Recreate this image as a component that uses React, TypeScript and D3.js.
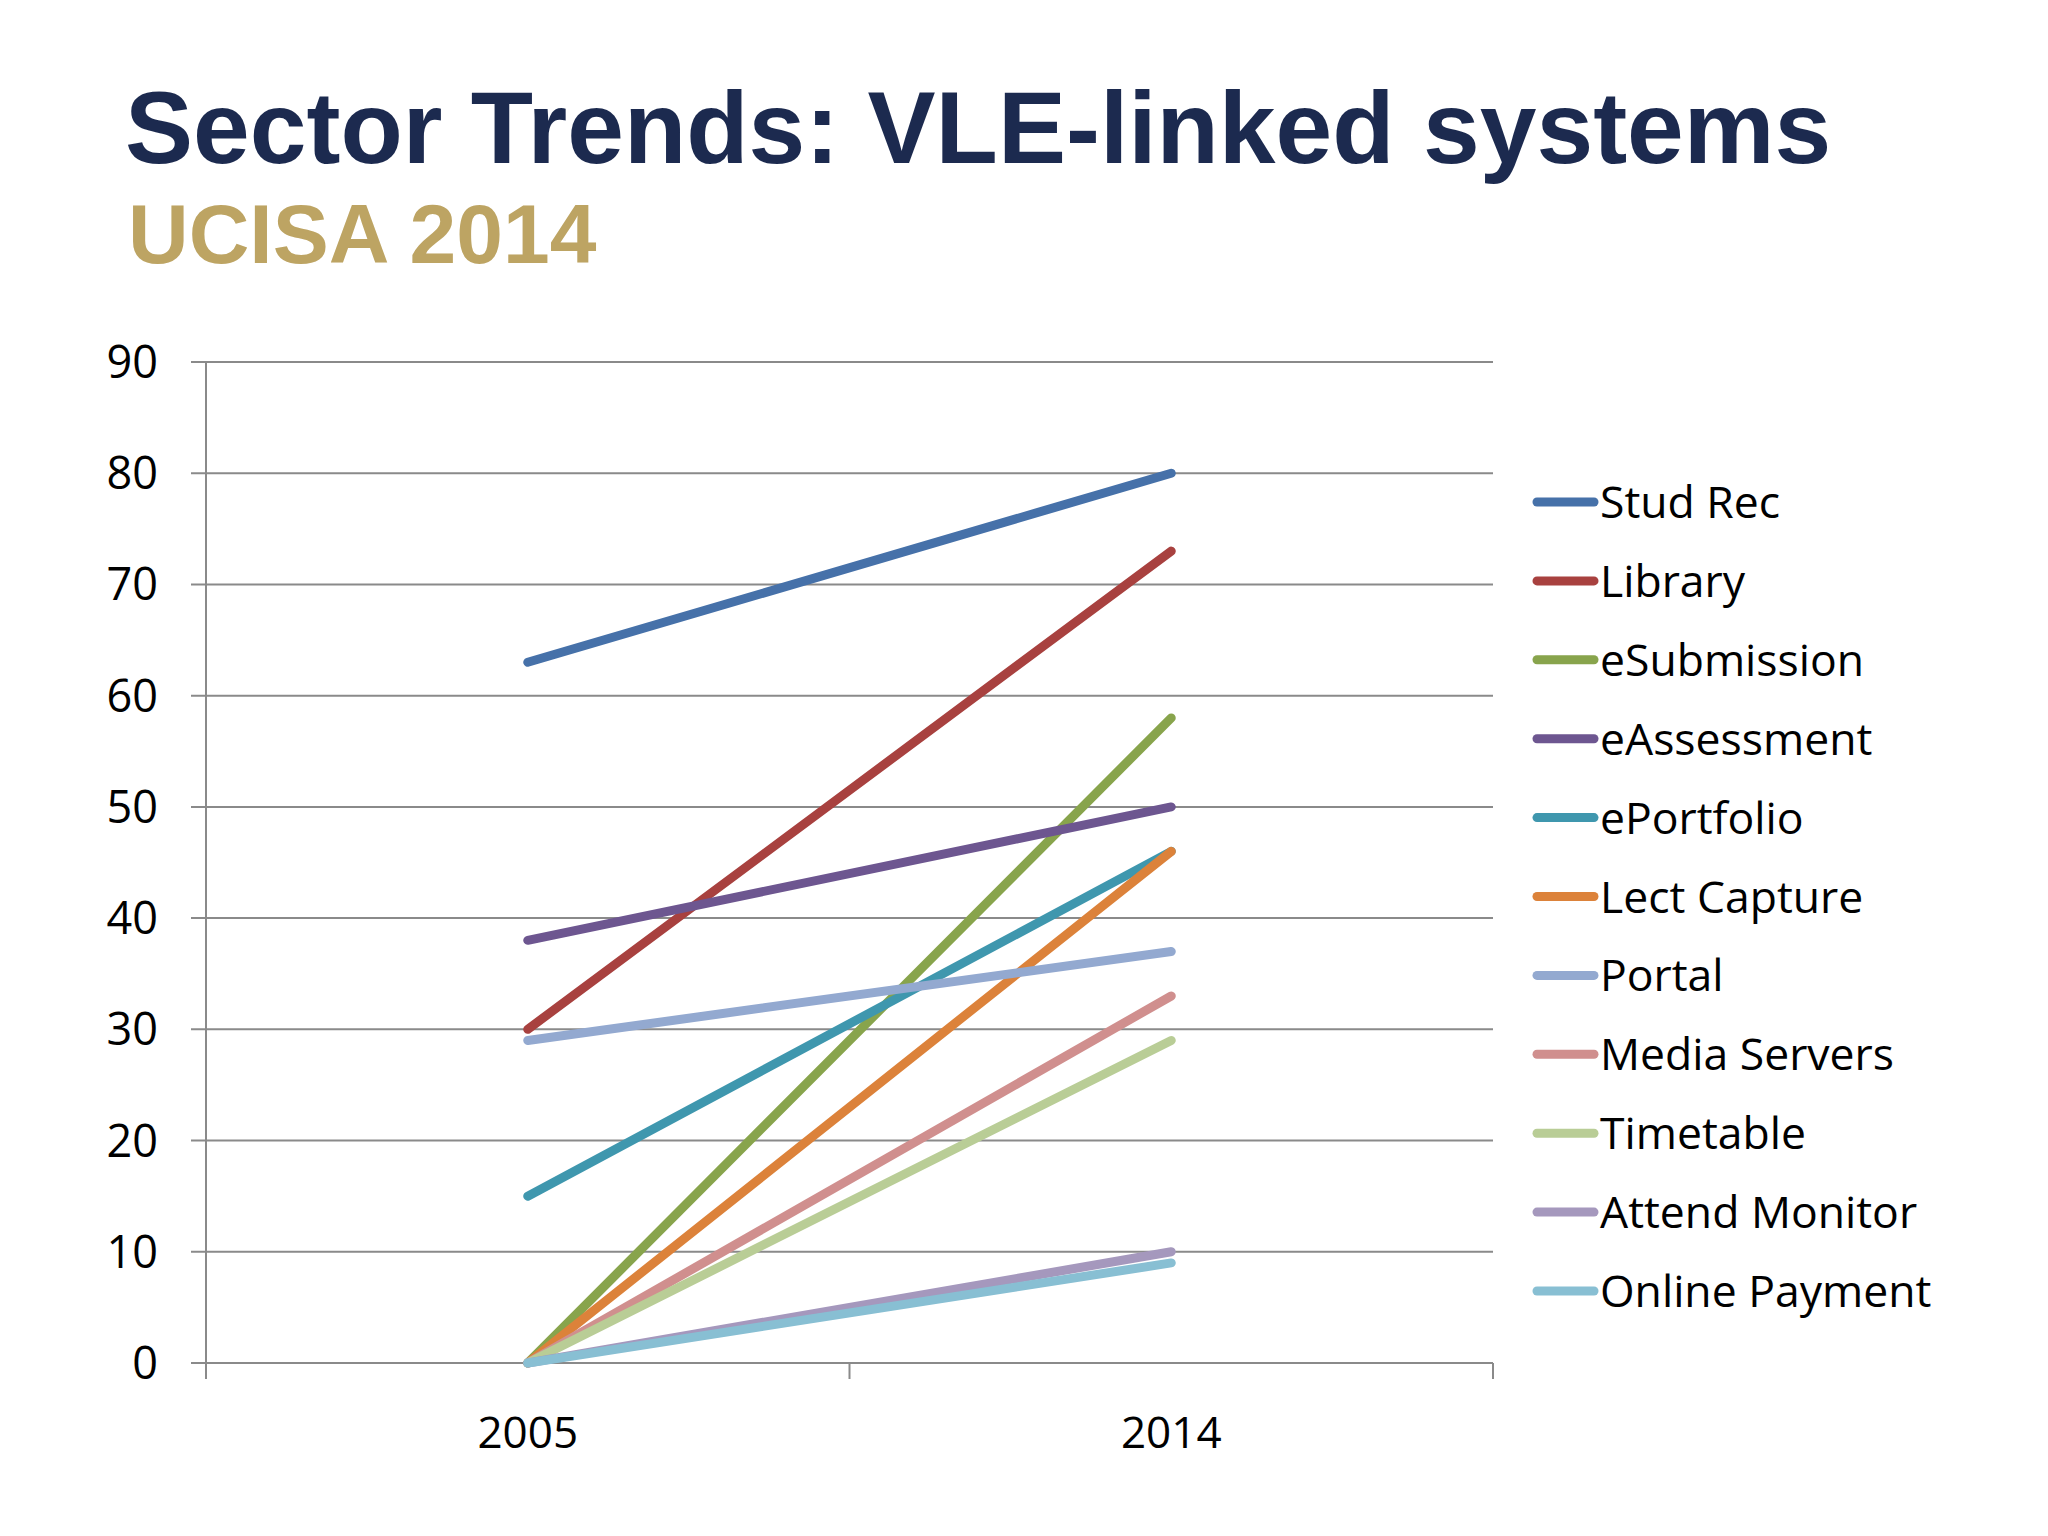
import React from "react";
import * as d3 from "d3";

const categories = ["2005", "2014"];
const seriesNames = [
  "Stud Rec",
  "Library",
  "eSubmission",
  "eAssessment",
  "ePortfolio",
  "Lect Capture",
  "Portal",
  "Media Servers",
  "Timetable",
  "Attend Monitor",
  "Online Payment",
];
const values2005 = [63, 30, 0, 38, 15, 0, 29, 0, 0, 0, 0];
const values2014 = [80, 73, 58, 50, 46, 46, 37, 33, 29, 10, 9];
const seriesColors = [
  "#4671A9",
  "#A8413F",
  "#88A44C",
  "#6D5690",
  "#3F97AE",
  "#DC823A",
  "#93A9D0",
  "#D08F8E",
  "#B9CD96",
  "#A598BD",
  "#88BFD3",
];
const yTicks = [0, 10, 20, 30, 40, 50, 60, 70, 80, 90];

const W = 2048;
const H = 1536;
const plotLeft = 206;
const plotRight = 1493;
const plotTop = 362;
const plotBottom = 1363;

export default function App() {
  React.useEffect(() => {
    document.body.style.margin = "0";
  }, []);

  const x = d3.scaleBand<string>().domain(categories).range([plotLeft, plotRight]);
  const y = d3.scaleLinear().domain([0, 90]).range([plotBottom, plotTop]);
  const cx = (c: string) => (x(c) as number) + x.bandwidth() / 2;

  const line = d3
    .line<{ c: string; v: number }>()
    .x((d) => cx(d.c))
    .y((d) => y(d.v));

  const series = seriesNames.map((name, i) => ({
    name,
    color: seriesColors[i],
    points: [
      { c: categories[0], v: values2005[i] },
      { c: categories[1], v: values2014[i] },
    ],
  }));

  const xTickPositions = [plotLeft, ...categories.slice(1).map((c) => x(c) as number), plotRight];
  const gridColor = "#8A8A8A";
  const labelFont = "'Open Sans', 'Noto Sans', sans-serif";

  return (
    <div style={{ position: "absolute", left: 0, top: 0 }}>
      <svg width={W} height={H} viewBox={`0 0 ${W} ${H}`} style={{ display: "block", background: "#fff" }}>
        <rect x={0} y={0} width={W} height={H} fill="#ffffff" />
        <text
          x={125}
          y={163}
          fontFamily="'Liberation Sans', Arial, sans-serif"
          fontWeight="bold"
          fontSize={102}
          fill="#1C2A4F"
        >
          Sector Trends: VLE-linked systems
        </text>
        <text
          x={128}
          y={263}
          fontFamily="'Liberation Sans', Arial, sans-serif"
          fontWeight="bold"
          fontSize={84}
          fill="#BDA463"
        >
          UCISA 2014
        </text>

        {/* gridlines */}
        {yTicks.map((t) => (
          <line
            key={`g${t}`}
            x1={plotLeft - 15}
            x2={plotRight}
            y1={y(t)}
            y2={y(t)}
            stroke={gridColor}
            strokeWidth={2}
          />
        ))}
        {/* y axis */}
        <line x1={plotLeft} x2={plotLeft} y1={plotTop} y2={plotBottom} stroke={gridColor} strokeWidth={2} />
        {/* x ticks */}
        {xTickPositions.map((p, i) => (
          <line key={`xt${i}`} x1={p} x2={p} y1={plotBottom} y2={plotBottom + 16} stroke={gridColor} strokeWidth={2} />
        ))}
        {/* y labels */}
        {yTicks.map((t) => (
          <text
            key={`yl${t}`}
            x={158}
            y={y(t) + 16}
            textAnchor="end"
            fontFamily={labelFont}
            fontSize={45}
            fill="#000"
          >
            {t}
          </text>
        ))}
        {/* x labels */}
        {categories.map((c) => (
          <text
            key={`xl${c}`}
            x={cx(c)}
            y={1448}
            textAnchor="middle"
            fontFamily={labelFont}
            fontSize={44}
            fill="#000"
          >
            {c}
          </text>
        ))}

        {/* series */}
        {series.map((s) => (
          <path
            key={s.name}
            d={line(s.points) as string}
            fill="none"
            stroke={s.color}
            strokeWidth={9}
            strokeLinecap="round"
          />
        ))}

        {/* legend */}
        {series.map((s, i) => {
          const ly = 502 + i * 78.9;
          return (
            <g key={`lg${s.name}`}>
              <line x1={1537} x2={1594} y1={ly} y2={ly} stroke={s.color} strokeWidth={9} strokeLinecap="round" />
              <text x={1600} y={ly + 16} fontFamily={labelFont} fontSize={44.5} fill="#000">
                {s.name}
              </text>
            </g>
          );
        })}
      </svg>
    </div>
  );
}
